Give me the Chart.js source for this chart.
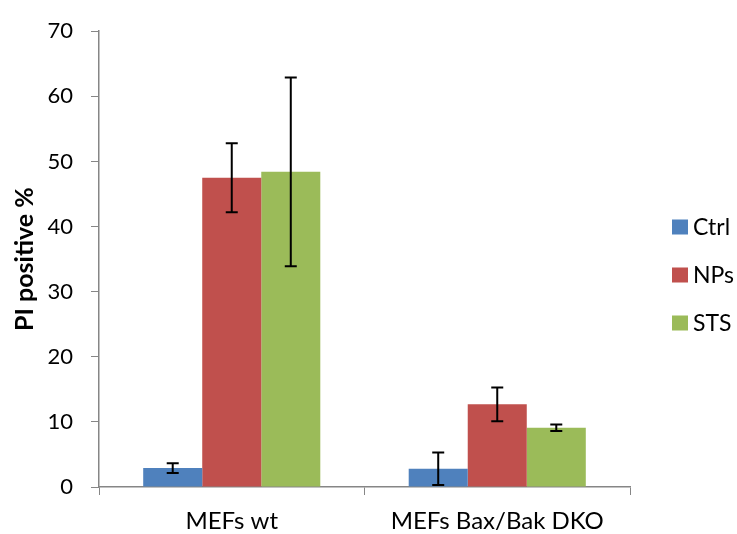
<!DOCTYPE html>
<html>
<head>
<meta charset="utf-8">
<script src="https://cdn.jsdelivr.net/npm/chart.js@4.4.0/dist/chart.umd.min.js"></script>
<style>
  html, body { margin: 0; padding: 0; background: #fff; }
  #wrap { width: 737px; height: 534px; }
</style>
</head>
<body>
<div id="wrap"><canvas id="chart"></canvas></div>
<script>
// dados
const categories = ['MEFs wt', 'MEFs Bax/Bak DKO'];
const seriesNames = ['Ctrl', 'NPs', 'STS'];
const ctrlValues = [2.9, 2.8];
const npsValues = [47.5, 12.7];
const stsValues = [48.4, 9.1];
const ctrlErrors = [0.75, 2.5];
const npsErrors = [5.3, 2.6];
const stsErrors = [14.5, 0.5];
const yTicks = [0, 10, 20, 30, 40, 50, 60, 70];

const colors = ['#4f81bd', '#c0504d', '#9bbb59'];
const axisColor = '#868686';
const fontFamily = 'Lato, "Open Sans", sans-serif';

// barras de erro desenhadas com as escalas do gráfico
const errorBars = {
    id: 'errorBars',
    afterDatasetsDraw(chart) {
        const ctx = chart.ctx;
        const y = chart.scales.y;
        ctx.save();
        ctx.strokeStyle = '#000';
        ctx.lineWidth = 2;
        chart.data.datasets.forEach((ds, i) => {
            const meta = chart.getDatasetMeta(i);
            meta.data.forEach((bar, j) => {
                const v = ds.data[j];
                const e = ds.errors[j];
                const top = y.getPixelForValue(v + e);
                const bot = y.getPixelForValue(v - e);
                const x = bar.x;
                ctx.beginPath();
                ctx.moveTo(x, top); ctx.lineTo(x, bot);
                ctx.moveTo(x - 6, top); ctx.lineTo(x + 6, top);
                ctx.moveTo(x - 6, bot); ctx.lineTo(x + 6, bot);
                ctx.stroke();
            });
        });
        ctx.restore();
    }
};

// legenda à direita, espaçada como no original
const sideLegend = {
    id: 'sideLegend',
    afterDraw(chart) {
        const ctx = chart.ctx;
        const area = chart.chartArea;
        const x = area.right + 42;
        const step = 48;
        const y0 = 227;
        ctx.save();
        ctx.font = '23px ' + fontFamily;
        ctx.textBaseline = 'middle';
        chart.data.datasets.forEach((ds, i) => {
            const y = y0 + i * step;
            ctx.fillStyle = ds.backgroundColor;
            ctx.fillRect(x, y - 7.5, 16, 15);
            ctx.fillStyle = '#000';
            ctx.fillText(ds.label, x + 21, y + 1);
        });
        ctx.restore();
    }
};

const ctx = document.getElementById('chart').getContext('2d');
new Chart(ctx, {
    type: 'bar',
    data: {
        labels: categories,
        datasets: [
            { label: seriesNames[0], data: ctrlValues, errors: ctrlErrors, backgroundColor: colors[0] },
            { label: seriesNames[1], data: npsValues, errors: npsErrors, backgroundColor: colors[1] },
            { label: seriesNames[2], data: stsValues, errors: stsErrors, backgroundColor: colors[2] }
        ]
    },
    options: {
        responsive: true,
        maintainAspectRatio: false,
        animation: false,
        categoryPercentage: 0.667,
        barPercentage: 1.0,
        layout: { padding: { top: 7, right: 107, left: 10, bottom: 0 } },
        scales: {
            x: {
                afterFit: axis => { axis.height = 47; },
                grid: { drawOnChartArea: false, drawTicks: true, tickLength: 8, color: axisColor, offset: true },
                border: { color: axisColor, width: 1.5 },
                ticks: { color: '#000', font: { family: fontFamily, size: 24 }, padding: 12 }
            },
            y: {
                min: 0,
                max: 70,
                afterBuildTicks: axis => { axis.ticks = yTicks.map(v => ({ value: v })); },
                afterFit: axis => { axis.width = 89; },
                grid: { drawOnChartArea: false, drawTicks: true, tickLength: 8, color: axisColor },
                border: { color: axisColor, width: 1.5 },
                ticks: { color: '#000', font: { family: fontFamily, size: 22 }, padding: 18 },
                title: {
                    display: true,
                    text: 'PI positive %',
                    color: '#000',
                    font: { family: fontFamily, size: 25, weight: 'bold' },
                    padding: { top: 0, bottom: 0 }
                }
            }
        },
        plugins: {
            legend: { display: false },
            tooltip: { enabled: false }
        }
    },
    plugins: [errorBars, sideLegend]
});
</script>
</body>
</html>
